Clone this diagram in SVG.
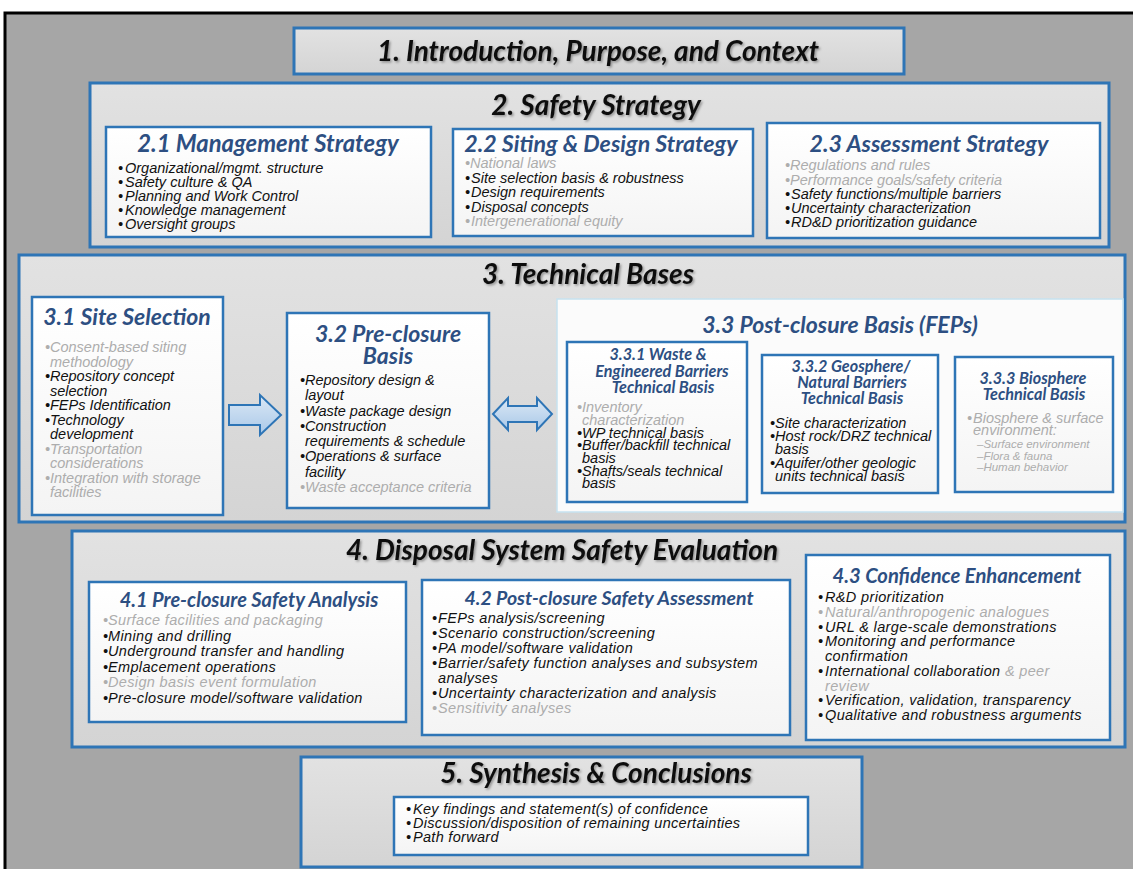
<svg xmlns="http://www.w3.org/2000/svg" width="1133" height="869" viewBox="0 0 1133 869">
<defs>
<style>
.h{font-family:Lato,"Open Sans","Liberation Sans",sans-serif;font-weight:bold;font-style:italic;font-size:28px;fill:#111;text-anchor:middle}
.s{font-family:Lato,"Open Sans","Liberation Sans",sans-serif;font-weight:bold;font-style:italic;fill:#2d4f82;text-anchor:middle}
.b{font-family:"Liberation Sans",Arial,sans-serif;font-style:italic;font-size:14.5px;fill:#111}
.g{fill:#adadad}
.ob{fill:url(#gg);stroke:#2e75b6;stroke-width:3}
.ib{fill:url(#wg);stroke:#2e75b6;stroke-width:2.5}
.ar{fill:url(#ag);stroke:#2e75b6;stroke-width:2;stroke-linejoin:miter}
</style>
<linearGradient id="gg" x1="0" y1="0" x2="0" y2="1"><stop offset="0" stop-color="#e2e2e2"/><stop offset="1" stop-color="#d4d4d4"/></linearGradient>
<linearGradient id="wg" x1="0" y1="0" x2="0" y2="1"><stop offset="0" stop-color="#ffffff"/><stop offset="1" stop-color="#f4f4f4"/></linearGradient>
<linearGradient id="ag" x1="0" y1="0" x2="0" y2="1"><stop offset="0" stop-color="#dbe8f5"/><stop offset="1" stop-color="#a9c8e8"/></linearGradient>
<filter id="sh" x="-5%" y="-20%" width="110%" height="150%"><feDropShadow dx="1.5" dy="1.5" stdDeviation="1" flood-color="#000" flood-opacity="0.35"/></filter>
</defs>
<rect x="0" y="0" width="1133" height="869" fill="#fff"/>
<rect x="5" y="13" width="1130" height="858" fill="#a6a6a6" stroke="#000" stroke-width="3"/>

<g id="n1">
<rect class="ob" x="294" y="28" width="610" height="46"/>
<text class="h" x="598" y="61" filter="url(#sh)">1.  Introduction, Purpose, and Context</text>
</g>

<g id="n2">
<rect class="ob" x="90" y="83" width="1019" height="164"/>
<text class="h" x="596" y="115" filter="url(#sh)">2.  Safety Strategy</text>
</g>
<g id="n21">
<rect class="ib" x="106" y="127" width="325" height="110"/>
<text class="s" x="268" y="152" font-size="23.8">2.1 Management Strategy</text>
<text class="b"><tspan x="118" y="173">•</tspan><tspan x="125">Organizational/mgmt.  structure</tspan><tspan x="118" y="187">•</tspan><tspan x="125">Safety culture &amp; QA</tspan><tspan x="118" y="201">•</tspan><tspan x="125">Planning and Work Control</tspan><tspan x="118" y="215">•</tspan><tspan x="125">Knowledge  management</tspan><tspan x="118" y="229">•</tspan><tspan x="125">Oversight groups</tspan></text>
</g>
<g id="n22">
<rect class="ib" x="453" y="129" width="300" height="107"/>
<text class="s" x="601" y="152" font-size="23.2">2.2 Siting &amp; Design Strategy</text>
<text class="b"><tspan class="g" x="465" y="168">•National laws</tspan><tspan x="465" y="183">•</tspan><tspan x="471">Site selection basis &amp; robustness</tspan><tspan x="465" y="197">•</tspan><tspan x="471">Design requirements</tspan><tspan x="465" y="212">•</tspan><tspan x="471">Disposal concepts</tspan><tspan class="g" x="465" y="226">•</tspan><tspan class="g" x="471">Intergenerational equity</tspan></text>
</g>
<g id="n23">
<rect class="ib" x="767" y="123" width="333" height="115"/>
<text class="s" x="929" y="152" font-size="23.2">2.3 Assessment Strategy</text>
<text class="b"><tspan class="g" x="785" y="170">•Regulations and rules</tspan><tspan class="g" x="785" y="185">•Performance goals/safety criteria</tspan><tspan x="785" y="199">•</tspan><tspan x="791">Safety functions/multiple barriers</tspan><tspan x="785" y="213">•</tspan><tspan x="791">Uncertainty characterization</tspan><tspan x="785" y="227">•</tspan><tspan x="791">RD&amp;D prioritization guidance</tspan></text>
</g>

<g id="n3">
<rect class="ob" x="19" y="255" width="1106" height="267"/>
<text class="h" x="588" y="284" filter="url(#sh)">3.  Technical Bases</text>
</g>
<g id="n31">
<rect class="ib" x="32" y="297" width="191" height="218"/>
<text class="s" x="127" y="325" font-size="23">3.1 Site Selection</text>
<text class="b"><tspan class="g" x="45" y="352">•</tspan><tspan class="g" x="50">Consent-based siting</tspan><tspan class="g" x="50" y="366.5">methodology</tspan><tspan x="45" y="381">•</tspan><tspan x="50">Repository concept</tspan><tspan x="50" y="395.5">selection</tspan><tspan x="45" y="410">•</tspan><tspan x="50">FEPs Identification</tspan><tspan x="45" y="424.5">•</tspan><tspan x="50">Technology</tspan><tspan x="50" y="439">development</tspan><tspan class="g" x="45" y="453.5">•</tspan><tspan class="g" x="50">Transportation</tspan><tspan class="g" x="50" y="468">considerations</tspan><tspan class="g" x="45" y="482.5">•</tspan><tspan class="g" x="50">Integration with storage</tspan><tspan class="g" x="50" y="497">facilities</tspan></text>
</g>
<g id="n32">
<rect class="ib" x="287" y="313" width="202" height="195"/>
<text class="s" font-size="23"><tspan x="388" y="342">3.2 Pre-closure</tspan><tspan x="388" y="364">Basis</tspan></text>
<text class="b"><tspan x="300" y="385">•</tspan><tspan x="305">Repository design &amp;</tspan><tspan x="305" y="400">layout</tspan><tspan x="300" y="415.5">•</tspan><tspan x="305">Waste package design</tspan><tspan x="300" y="430.5">•</tspan><tspan x="305">Construction</tspan><tspan x="305" y="446">requirements &amp; schedule</tspan><tspan x="300" y="461">•</tspan><tspan x="305">Operations &amp; surface</tspan><tspan x="305" y="476.5">facility</tspan><tspan class="g" x="300" y="492">•</tspan><tspan class="g" x="305">Waste acceptance criteria</tspan></text>
</g>
<g id="n33">
<rect x="557" y="299" width="566" height="213" fill="#fbfbfb" stroke="#c6e2f0" stroke-width="1.5"/>
<text class="s" x="840" y="333" font-size="23">3.3 Post-closure Basis (FEPs)</text>
</g>
<g id="n331">
<rect class="ib" x="567" y="342" width="180" height="160"/>
<text class="s" font-size="16.2"><tspan x="658" y="360">3.3.1  Waste &amp;</tspan><tspan x="662" y="376.5">Engineered Barriers</tspan><tspan x="663" y="393">Technical Basis</tspan></text>
<text class="b" font-size="12.2"><tspan class="g" x="577" y="412">•</tspan><tspan class="g" x="582">Inventory</tspan><tspan class="g" x="582" y="425">characterization</tspan><tspan x="577" y="437.5">•</tspan><tspan x="582">WP technical basis</tspan><tspan x="577" y="450">•</tspan><tspan x="582">Buffer/backfill technical</tspan><tspan x="582" y="463">basis</tspan><tspan x="577" y="475.5">•</tspan><tspan x="582">Shafts/seals technical</tspan><tspan x="582" y="488">basis</tspan></text>
</g>
<g id="n332">
<rect class="ib" x="762" y="355" width="176" height="138"/>
<text class="s" font-size="16.2"><tspan x="851" y="372">3.3.2  Geosphere/</tspan><tspan x="852" y="388">Natural Barriers</tspan><tspan x="852" y="404">Technical Basis</tspan></text>
<text class="b" font-size="12.3"><tspan x="770" y="428">•</tspan><tspan x="775">Site characterization</tspan><tspan x="770" y="441">•</tspan><tspan x="775">Host rock/DRZ technical</tspan><tspan x="775" y="454">basis</tspan><tspan x="770" y="467.5">•</tspan><tspan x="775">Aquifer/other  geologic</tspan><tspan x="775" y="480.5">units technical basis</tspan></text>
</g>
<g id="n333">
<rect class="ib" x="955" y="357" width="158" height="135"/>
<text class="s" font-size="16.2"><tspan x="1033" y="384">3.3.3  Biosphere</tspan><tspan x="1034" y="400">Technical Basis</tspan></text>
<text class="b g" font-size="12"><tspan x="967" y="423">•</tspan><tspan x="973">Biosphere  &amp;  surface</tspan><tspan x="973" y="435">environment:</tspan><tspan x="977" y="448" font-size="11.5">–Surface  environment</tspan><tspan x="977" y="459.5" font-size="11.5">–Flora  &amp;  fauna</tspan><tspan x="977" y="471" font-size="11.5">–Human  behavior</tspan></text>
</g>

<g id="connectors">
<polygon class="ar" points="229,405 260,405 260,395 281,415 260,435 260,425 229,425"/>
<polygon class="ar" points="493,414 508,398 508,406 537,406 537,398 552,414 537,430 537,422 508,422 508,430"/>
</g>

<g id="n4">
<rect class="ob" x="72" y="531" width="1053" height="216"/>
<text class="h" x="562" y="560" filter="url(#sh)">4.  Disposal System Safety Evaluation</text>
</g>
<g id="n41">
<rect class="ib" x="89" y="582" width="317" height="140"/>
<text class="s" x="249" y="607" font-size="20">4.1 Pre-closure  Safety Analysis</text>
<text class="b" font-size="15.5" letter-spacing="0.35"><tspan class="g" x="103" y="625">•</tspan><tspan class="g" x="108">Surface facilities and packaging</tspan><tspan x="103" y="640.5">•</tspan><tspan x="108">Mining and drilling</tspan><tspan x="103" y="656">•</tspan><tspan x="108">Underground transfer and handling</tspan><tspan x="103" y="671.5">•</tspan><tspan x="108">Emplacement operations</tspan><tspan class="g" x="103" y="687">•</tspan><tspan class="g" x="108">Design basis event formulation</tspan><tspan x="103" y="703">•</tspan><tspan x="108">Pre-closure model/software validation</tspan></text>
</g>
<g id="n42">
<rect class="ib" x="422" y="580" width="368" height="155"/>
<text class="s" x="609" y="605" font-size="19.5">4.2 Post-closure  Safety Assessment</text>
<text class="b" font-size="15.5" letter-spacing="0.35"><tspan x="432" y="623">•</tspan><tspan x="438">FEPs analysis/screening</tspan><tspan x="432" y="638">•</tspan><tspan x="438">Scenario construction/screening</tspan><tspan x="432" y="653">•</tspan><tspan x="438">PA model/software validation</tspan><tspan x="432" y="668">•</tspan><tspan x="438">Barrier/safety function analyses and subsystem</tspan><tspan x="438" y="683">analyses</tspan><tspan x="432" y="698">•</tspan><tspan x="438">Uncertainty characterization and analysis</tspan><tspan class="g" x="432" y="713">•</tspan><tspan class="g" x="438">Sensitivity analyses</tspan></text>
</g>
<g id="n43">
<rect class="ib" x="806" y="555" width="304" height="185"/>
<text class="s" x="957" y="583" font-size="20.2">4.3 Confidence  Enhancement</text>
<text class="b" font-size="15.5" letter-spacing="0.35"><tspan x="818" y="602">•</tspan><tspan x="825">R&amp;D prioritization</tspan><tspan class="g" x="818" y="616.75">•</tspan><tspan class="g" x="825">Natural/anthropogenic analogues</tspan><tspan x="818" y="631.5">•</tspan><tspan x="825">URL &amp; large-scale demonstrations</tspan><tspan x="818" y="646.25">•</tspan><tspan x="825">Monitoring and performance</tspan><tspan x="825" y="661">confirmation</tspan><tspan x="818" y="675.75">•</tspan><tspan x="825">International collaboration</tspan><tspan class="g"> &amp; peer</tspan><tspan class="g" x="825" y="690.5">review</tspan><tspan x="818" y="705.25">•</tspan><tspan x="825">Verification, validation, transparency</tspan><tspan x="818" y="720">•</tspan><tspan x="825">Qualitative and robustness arguments</tspan></text>
</g>

<g id="n5">
<rect class="ob" x="301" y="757" width="561" height="110"/>
<text class="h" x="596" y="783" filter="url(#sh)">5. Synthesis &amp; Conclusions</text>
<rect class="ib" x="394" y="797" width="414" height="58"/>
<text class="b" font-size="14.5" letter-spacing="0.3"><tspan x="406" y="814">•</tspan><tspan x="413">Key findings and statement(s) of confidence</tspan><tspan x="406" y="828">•</tspan><tspan x="413">Discussion/disposition of remaining uncertainties</tspan><tspan x="406" y="842">•</tspan><tspan x="413">Path forward</tspan></text>
</g>
</svg>
